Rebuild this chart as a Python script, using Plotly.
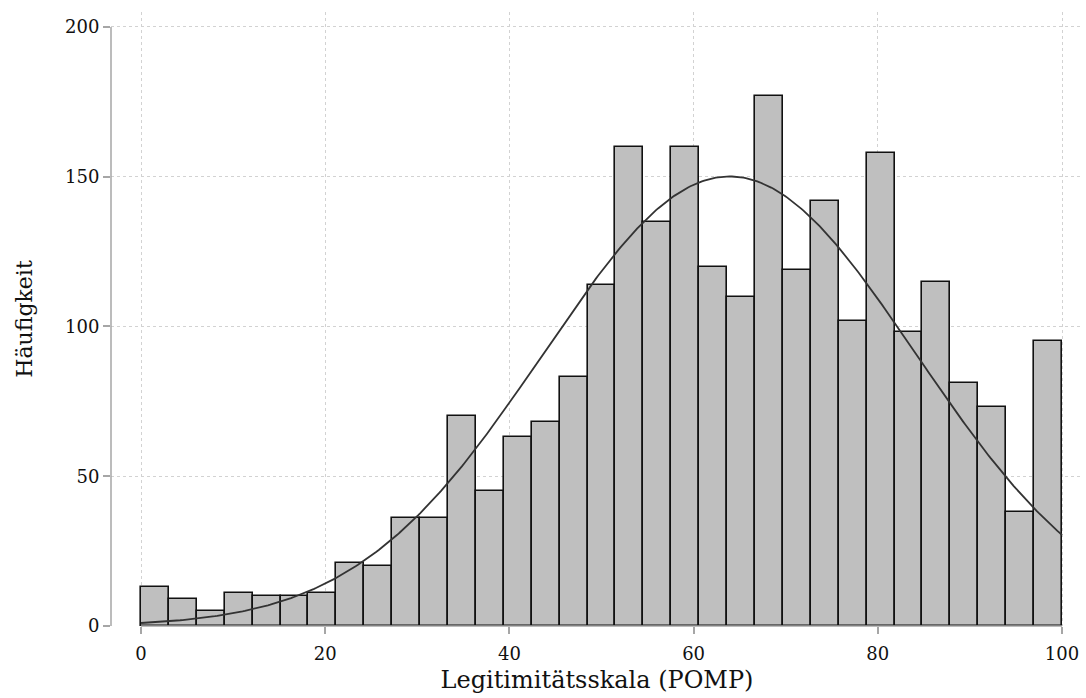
import numpy as np
import plotly.graph_objects as go

# ---- data ----
counts = [13, 9, 5, 11, 10, 10, 11, 21, 20, 36, 36, 70, 45, 63, 68, 83, 114,
          160, 135, 160, 120, 110, 177, 119, 142, 102, 158, 98, 115, 81, 73, 38, 95]
x_min, x_max = 0, 100
fit_mean = 63.9   # fitted normal curve parameters
fit_sd = 20.2
x_ticks = [0, 20, 40, 60, 80, 100]
y_ticks = [0, 50, 100, 150, 200]
x_title = "Legitimitätsskala (POMP)"
y_title = "Häufigkeit"

n_bins = len(counts)
bw = (x_max - x_min) / n_bins
centers = [x_min + (i + 0.5) * bw for i in range(n_bins)]
n_total = sum(counts)

xs = np.linspace(x_min, x_max, 400)
dens = n_total * bw * np.exp(-0.5 * ((xs - fit_mean) / fit_sd) ** 2) / (fit_sd * np.sqrt(2 * np.pi))

FONT = "DejaVu Serif, Georgia, serif"
AX = "#a6a6a6"
GRID = "#d2d2d2"

fig = go.Figure()
fig.add_trace(go.Bar(
    x=centers, y=counts, width=bw,
    marker=dict(color="#bfbfbf", line=dict(color="#111111", width=1.6)),
    hoverinfo="x+y", showlegend=False,
))
fig.add_trace(go.Scatter(
    x=xs, y=dens, mode="lines",
    line=dict(color="#333333", width=1.8),
    showlegend=False, hoverinfo="skip",
))

fig.update_layout(
    width=1086, height=698,
    margin=dict(l=111, r=3, t=12, b=72),
    paper_bgcolor="white", plot_bgcolor="white",
    font=dict(family=FONT, color="#111111"),
    bargap=0,
    xaxis=dict(
        range=[-3.26, 102.28], tickvals=x_ticks,
        showgrid=True, gridcolor=GRID, griddash="dot", gridwidth=1,
        zeroline=False, showline=False,
        ticks="outside", ticklen=7, tickwidth=1.5, tickcolor=AX,
        ticklabelstandoff=4,
        tickfont=dict(size=18, family=FONT),
        title=dict(text=x_title, font=dict(size=24, family=FONT), standoff=8),
    ),
    yaxis=dict(
        range=[0, 205], tickvals=y_ticks,
        showgrid=True, gridcolor=GRID, griddash="dot", gridwidth=1,
        zeroline=False, showline=False,
        ticks="outside", ticklen=7, tickwidth=1.5, tickcolor=AX,
        tickfont=dict(size=18, family=FONT),
        title=dict(text=y_title, font=dict(size=22, family=FONT), standoff=26),
    ),
    shapes=[
        dict(type="line", xref="paper", yref="y", x0=0, x1=0, y0=0, y1=200,
             line=dict(color=AX, width=1.5)),
        dict(type="line", xref="x", yref="paper", x0=x_min, x1=x_max, y0=0, y1=0,
             line=dict(color=AX, width=1.5), layer="above"),
    ],
)

fig.write_html("out.html")
